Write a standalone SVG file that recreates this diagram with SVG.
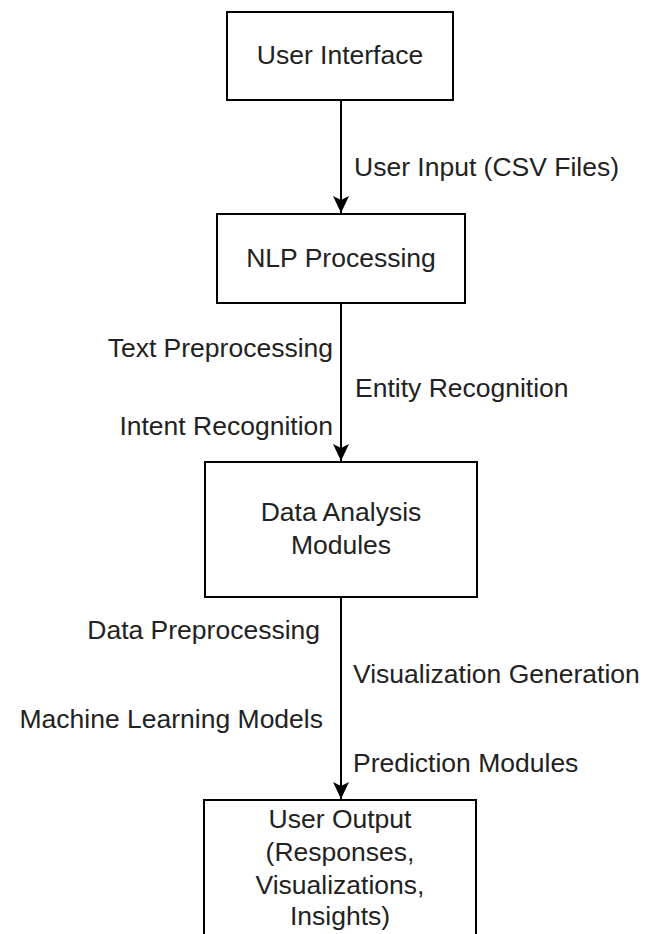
<svg xmlns="http://www.w3.org/2000/svg" width="648" height="934" viewBox="0 0 648 934">
<style>
.box{fill:#fff;stroke:#000;stroke-width:2}
.t{font-family:"Liberation Sans",Arial,sans-serif;font-size:26.5px;fill:#222}
.c{text-anchor:middle}
.e{text-anchor:end}
.edge{stroke:#000;stroke-width:2;fill:none}
</style>
<defs>
<marker id="arr" viewBox="0 0 18 18" refX="17" refY="9" markerWidth="18" markerHeight="18" markerUnits="userSpaceOnUse" orient="auto">
<path d="M17,9 L0,1 L4,9 L0,17 Z" fill="#000"/>
</marker>
</defs>
<rect width="648" height="934" fill="#fff"/>
<g id="connectors">
<line class="edge" x1="341" y1="100" x2="341" y2="213" marker-end="url(#arr)"/>
<line class="edge" x1="341" y1="303" x2="341" y2="461" marker-end="url(#arr)"/>
<line class="edge" x1="341" y1="597" x2="341" y2="799" marker-end="url(#arr)"/>
<text class="t" x="354" y="176">User Input (CSV Files)</text>
<text class="t e" x="333" y="357">Text Preprocessing</text>
<text class="t" x="355" y="397">Entity Recognition</text>
<text class="t e" x="333" y="435">Intent Recognition</text>
<text class="t e" x="320" y="639">Data Preprocessing</text>
<text class="t" x="353" y="683">Visualization Generation</text>
<text class="t e" x="323" y="728">Machine Learning Models</text>
<text class="t" x="353" y="772">Prediction Modules</text>
</g>
<g id="user-interface">
<rect class="box" x="227" y="12" width="226" height="88"/>
<text class="t c" x="340" y="64">User Interface</text>
</g>
<g id="nlp-processing">
<rect class="box" x="217" y="214" width="248" height="89"/>
<text class="t c" x="341" y="267">NLP Processing</text>
</g>
<g id="data-analysis">
<rect class="box" x="205" y="462" width="272" height="135"/>
<text class="t c" x="341" y="521">Data Analysis</text>
<text class="t c" x="341" y="554">Modules</text>
</g>
<g id="user-output">
<rect class="box" x="204" y="800" width="272" height="140"/>
<text class="t c" x="340" y="828">User Output</text>
<text class="t c" x="340" y="861">(Responses,</text>
<text class="t c" x="340" y="894">Visualizations,</text>
<text class="t c" x="340" y="925">Insights)</text>
</g>
</svg>
